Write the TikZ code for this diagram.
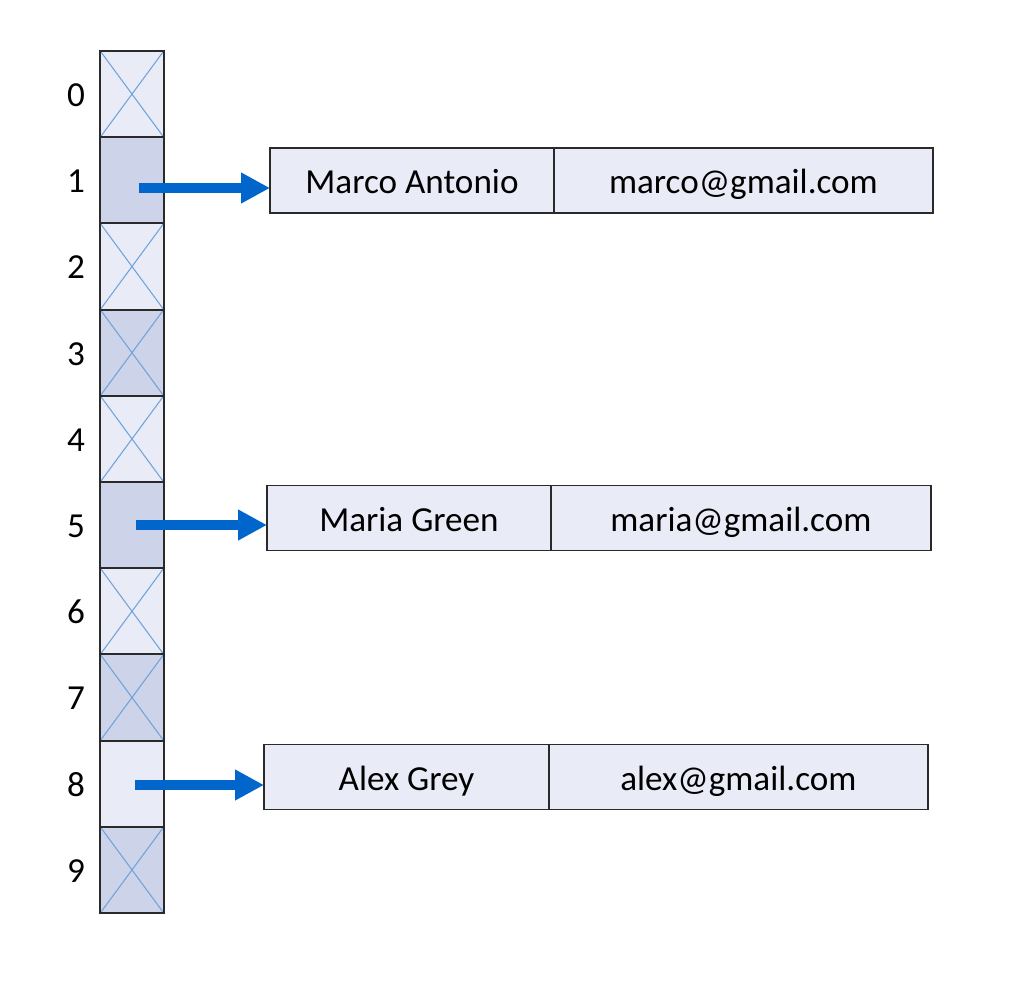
\documentclass[tikz,border=0pt]{standalone}
\usepackage{fontspec}
\setmainfont{Carlito}
\usetikzlibrary{arrows.meta,calc}

\definecolor{slotlight}{HTML}{E9EBF6}
\definecolor{slotdark}{HTML}{CDD3E9}
\definecolor{crossblue}{HTML}{6FA3DA}
\definecolor{arrowblue}{HTML}{0066CC}
\definecolor{edgegray}{HTML}{2A2A2A}

\begin{document}
\begin{tikzpicture}[x=0.02cm,y=-0.02cm,
	slot/.style={draw=edgegray,line width=1.1pt,minimum width=1.28cm,minimum height=1.724cm,inner sep=0pt,outer sep=0pt},
	field/.style={draw=edgegray,line width=1.1pt,fill=slotlight,minimum height=1.3cm,inner sep=0pt,outer sep=0pt,
		font=\fontsize{20}{24}\selectfont,text height=15pt,text depth=0pt},
	idx/.style={font=\fontsize{20}{24}\selectfont,text height=14pt,text depth=0pt,inner sep=0pt},
	link/.style={arrowblue,line width=5.6pt,-{Triangle[length=0.58cm,width=0.58cm]}}]

\useasboundingbox (0,0) rectangle (1029,981);

% the table slots
\foreach \i in {0,1,...,9}{
	\pgfmathsetmacro{\yc}{94.1+86.2*\i}
	\ifodd\i
		\node[slot,fill=slotdark] (c\i) at (132,\yc) {};
	\else
		\node[slot,fill=slotlight] (c\i) at (132,\yc) {};
	\fi
	\node[idx] (l\i) at (76,\yc) {\i};
}

% empty slots
\foreach \i in {0,2,3,4,6,7,9}{
	\draw[crossblue,line width=0.6pt] ($(c\i.north west)+(1,1)$)--($(c\i.south east)+(-1,-1)$);
	\draw[crossblue,line width=0.6pt] ($(c\i.north east)+(-1,1)$)--($(c\i.south west)+(1,-1)$);
}
\foreach \i in {0,1,...,9}{
	\draw[edgegray,line width=1.1pt] (c\i.north west) rectangle (c\i.south east);
}

% entries
\node[field,minimum width=5.68cm,anchor=west] (n1) at (270,180.5) {Marco Antonio};
\node[field,minimum width=7.58cm,anchor=west] (e1) at (n1.east) {marco@gmail.com};
\node[field,minimum width=5.68cm,anchor=west] (n5) at (267,518) {Maria Green};
\node[field,minimum width=7.6cm,anchor=west] (e5) at (n5.east) {maria@gmail.com};
\node[field,minimum width=5.7cm,anchor=west] (n8) at (264,777) {Alex Grey};
\node[field,minimum width=7.58cm,anchor=west] (e8) at (n8.east) {alex@gmail.com};

% links
\coordinate (a1) at (139,188);
\coordinate (a5) at (136,525);
\coordinate (a8) at (135,785);
\draw[link] (a1)--(a1 -| n1.west);
\draw[link] (a5)--(a5 -| n5.west);
\draw[link] (a8)--(a8 -| n8.west);

\end{tikzpicture}
\end{document}
